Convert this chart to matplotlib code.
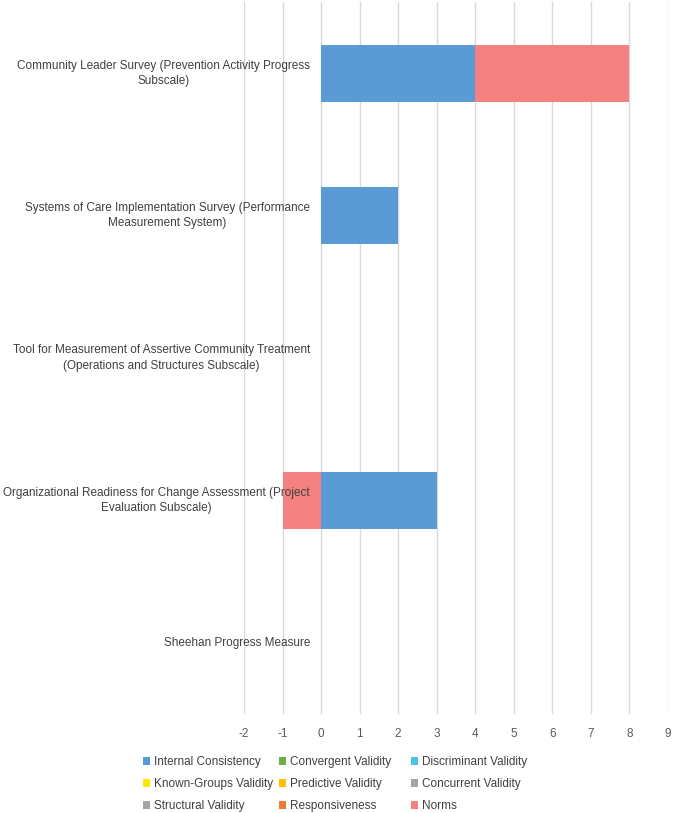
import numpy as np
import matplotlib.pyplot as plt
from matplotlib.transforms import ScaledTranslation

# categories (top to bottom)
categories = [
    'Community Leader Survey (Prevention Activity Progress\nSubscale)',
    'Systems of Care Implementation Survey (Performance\nMeasurement System)',
    'Tool for Measurement of Assertive Community Treatment\n(Operations and Structures Subscale)',
    'Organizational Readiness for Change Assessment (Project\nEvaluation Subscale)',
    'Sheehan Progress Measure',
]

internal_consistency = [4, 2, 0, 3, 0]
convergent_validity = [0, 0, 0, 0, 0]
discriminant_validity = [0, 0, 0, 0, 0]
known_groups_validity = [0, 0, 0, 0, 0]
predictive_validity = [0, 0, 0, 0, 0]
concurrent_validity = [0, 0, 0, 0, 0]
structural_validity = [0, 0, 0, 0, 0]
responsiveness = [0, 0, 0, 0, 0]
norms = [4, 0, 0, -1, 0]

series = [
    ('Internal Consistency', internal_consistency, '#5B9BD5'),
    ('Convergent Validity', convergent_validity, '#70AD47'),
    ('Discriminant Validity', discriminant_validity, '#4DC3E3'),
    ('Known-Groups Validity', known_groups_validity, '#FFE600'),
    ('Predictive Validity', predictive_validity, '#FFC000'),
    ('Concurrent Validity', concurrent_validity, '#A5A5A5'),
    ('Structural Validity', structural_validity, '#A5A5A5'),
    ('Responsiveness', responsiveness, '#ED7D31'),
    ('Norms', norms, '#F4807F'),
]

plt.rcParams['font.family'] = ['Liberation Sans', 'DejaVu Sans']
plt.rcParams['axes.unicode_minus'] = False

fig = plt.figure(figsize=(6.73, 8.13), dpi=100)
ax = fig.add_axes([244 / 673, 1 - 714 / 813, (668 - 244) / 673, 712 / 813])

y = np.arange(len(categories))
pos = np.zeros(len(categories))
neg = np.zeros(len(categories))
handles = []
for name, vals, color in series:
    vals = np.array(vals, dtype=float)
    left = np.where(vals >= 0, pos, neg)
    h = ax.barh(y, vals, left=left, height=0.4, color=color, label=name, zorder=3)
    handles.append(h)
    pos = pos + np.where(vals > 0, vals, 0)
    neg = neg + np.where(vals < 0, vals, 0)

ax.set_xlim(-2, 9)
ax.set_ylim(len(categories) - 0.5, -0.5)
ax.set_xticks(range(-2, 10))
ax.set_yticks([])
ax.grid(axis='x', color='#D9D9D9', linewidth=1, zorder=0)
ax.set_axisbelow(True)
for s in ax.spines.values():
    s.set_visible(False)
ax.tick_params(axis='x', length=0, pad=10, labelsize=8.5, labelcolor='#595959')

# category labels sit left of x = 0, drawn on top of the bars like Excel does
lab_trans = ax.transData + ScaledTranslation(-8 / 72, 0, fig.dpi_scale_trans)
for yi, lab in zip(y, categories):
    ax.text(0, yi, lab, transform=lab_trans, ha='right', va='center',
            multialignment='center', linespacing=1.35, fontsize=8.45,
            color='#404040', zorder=5)

# legend: three columns placed like the original (row-major order)
col_x = [135, 271, 403]
for c in range(3):
    idx = [c, c + 3, c + 6]
    fig.legend([handles[i] for i in idx], [series[i][0] for i in idx],
               loc='upper left', bbox_to_anchor=(col_x[c] / 673, 1 - 748 / 813),
               frameon=False, fontsize=8.5, handlelength=0.6, handleheight=0.6,
               handletextpad=0.3, labelspacing=0.85, borderpad=0.2,
               labelcolor='#404040')

plt.savefig('out.png', dpi=100)
